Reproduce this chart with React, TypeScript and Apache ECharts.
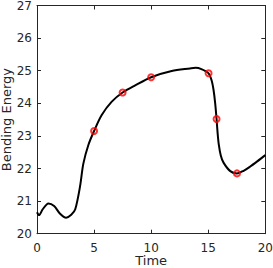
import React, { useEffect, useRef } from "react";
import * as echarts from "echarts";

const curveX = [0, 0.18, 0.5, 1.0, 1.5, 2.0, 2.55, 3.0, 3.35, 3.77, 4.06, 4.5, 5.0, 5.67, 6.55, 7.5, 8.6, 10, 11.8, 13.4, 13.9, 14.4, 15.03, 15.3, 15.47, 15.61, 15.73, 15.82, 15.92, 16.1, 16.34, 16.93, 17.52, 18.1, 18.68, 19.3, 20];
const curveY = [20.66, 20.57, 20.75, 20.93, 20.85, 20.62, 20.49, 20.58, 20.75, 21.45, 22.15, 22.72, 23.15, 23.64, 24.05, 24.33, 24.55, 24.8, 24.99, 25.07, 25.09, 25.05, 24.92, 24.7, 24.4, 24.0, 23.52, 23.1, 22.75, 22.4, 22.18, 21.92, 21.85, 21.93, 22.06, 22.22, 22.41];

const markerX = [5, 7.5, 10, 15.03, 15.73, 17.52];
const markerY = [23.15, 24.33, 24.8, 24.92, 23.52, 21.85];

const xTicks = { min: 0, max: 20, interval: 5 };
const yTicks = { min: 20, max: 27, interval: 1 };

const axisColor = "#262626";
const font = "DejaVu Sans";

export default function App() {
  const ref = useRef<HTMLDivElement>(null);
  useEffect(() => {
    if (!ref.current) return;
    const chart = echarts.init(ref.current, null, { renderer: "svg" });
    const lineStyle = { color: axisColor, width: 1 };
    const tick = { show: true, inside: true, length: 4, lineStyle: { color: axisColor, width: 1 } };
    chart.setOption({
      animation: false,
      grid: { left: 37, right: 7.7, top: 5.5, bottom: 34.3, containLabel: false, outerBoundsMode: "none" },
      xAxis: [
        {
          type: "value", ...xTicks, position: "bottom",
          name: "Time", nameLocation: "middle", nameGap: 21, nameMoveOverlap: false,
          nameTextStyle: { color: axisColor, fontFamily: font, fontSize: 13, verticalAlign: "top", lineHeight: 12 },
          axisLine: { show: true, onZero: false, lineStyle },
          axisTick: tick,
          axisLabel: { color: axisColor, fontFamily: font, fontSize: 12, margin: 8 },
          splitLine: { show: false },
        },
        {
          type: "value", ...xTicks, position: "top",
          axisLine: { show: true, onZero: false, lineStyle },
          axisTick: tick,
          axisLabel: { show: false },
          splitLine: { show: false },
        },
      ],
      yAxis: [
        {
          type: "value", ...yTicks, position: "left",
          name: "Bending Energy", nameLocation: "middle", nameGap: 24, nameRotate: 90, nameMoveOverlap: false,
          nameTextStyle: { color: axisColor, fontFamily: font, fontSize: 13, verticalAlign: "bottom" },
          axisLine: { show: true, onZero: false, lineStyle },
          axisTick: tick,
          axisLabel: { color: axisColor, fontFamily: font, fontSize: 12, margin: 5 },
          splitLine: { show: false },
        },
        {
          type: "value", ...yTicks, position: "right",
          axisLine: { show: true, onZero: false, lineStyle },
          axisTick: tick,
          axisLabel: { show: false },
          splitLine: { show: false },
        },
      ],
      series: [
        {
          type: "line",
          data: curveX.map((x, i) => [x, curveY[i]]),
          smooth: 0.3,
          showSymbol: false,
          lineStyle: { color: "#000000", width: 2 },
          z: 2,
        },
        {
          type: "scatter",
          data: markerX.map((x, i) => [x, markerY[i]]),
          symbol: "circle",
          symbolSize: 6,
          itemStyle: { color: "transparent", borderColor: "#ff0000", borderWidth: 2 },
          z: 3,
        },
      ],
    });
    return () => chart.dispose();
  }, []);
  return <div ref={ref} style={{ position: "fixed", left: 0, top: 0, width: 273, height: 268, background: "#fff" }} />;
}
